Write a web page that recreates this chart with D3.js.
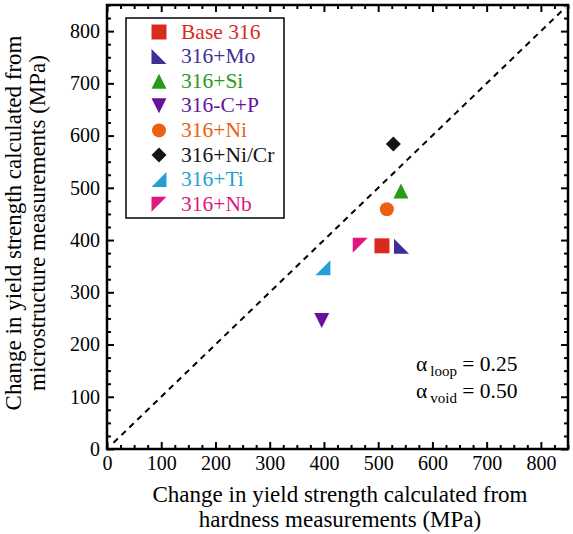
<!DOCTYPE html>
<html>
<head>
<meta charset="utf-8">
<script src="https://cdn.jsdelivr.net/npm/d3@7"></script>
<style>
  body { margin: 0; background: #fff; }
  text { font-family: "Liberation Serif", "Times New Roman", serif; }
</style>
</head>
<body>
<svg id="chart" width="573" height="534"></svg>
<script>
"use strict";

// data
var alloys = ["Base 316", "316+Mo", "316+Si", "316-C+P", "316+Ni", "316+Ni/Cr", "316+Ti", "316+Nb"];
var hardnessYS = [507, 543, 542, 396, 516, 528, 398, 467];
var microYS = [389, 388, 494, 246, 459, 584, 347, 390];
var colors = ["#da2a1f", "#3e2f97", "#2a9a1a", "#6a109e", "#ea620f", "#151515", "#259fd2", "#e0177f"];
var symbols = ["square", "triLL", "triUp", "triDown", "circle", "diamond", "triLR", "triUL"];
var tickValues = [0, 100, 200, 300, 400, 500, 600, 700, 800];

var svg = d3.select("#chart");

var x = d3.scaleLinear().domain([0, 850]).range([107, 568]);
var y = d3.scaleLinear().domain([0, 850]).range([449, 5]);

// marker shapes, s = half size
var markerPath = function(type, s)
{
    switch (type)
    {
        case "square":  return "M" + -s + "," + -s + "H" + s + "V" + s + "H" + -s + "Z";
        case "triUp":   return "M0," + -s + "L" + s + "," + s + "H" + -s + "Z";
        case "triDown": return "M0," + s + "L" + s + "," + -s + "H" + -s + "Z";
        case "diamond": return "M0," + -s + "L" + s + ",0L0," + s + "L" + -s + ",0Z";
        case "triLL":   return "M" + -s + "," + -s + "L" + s + "," + s + "H" + -s + "Z";
        case "triLR":   return "M" + s + "," + -s + "V" + s + "H" + -s + "Z";
        case "triUL":   return "M" + -s + "," + -s + "H" + s + "L" + -s + "," + s + "Z";
        case "circle":  return d3.symbol(d3.symbolCircle, Math.PI * s * s)();
    }
};

// axes, ticks pointing inward
var minorTicks = d3.range(0, 851, 25).filter(function(v) { return v % 100 != 0; });

var styleAxis = function(g)
{
    g.select(".domain").remove();
    g.selectAll("line").attr("stroke", "#000").attr("stroke-width", 2);
    g.selectAll("text").attr("fill", "#000").style("font-size", "20px");
};

svg.append("g").attr("transform", "translate(0,449)")
    .call(d3.axisBottom(x).tickValues(tickValues).tickSize(-7).tickPadding(7).tickFormat(d3.format("d")))
    .call(styleAxis);
svg.append("g").attr("transform", "translate(0,449)")
    .call(d3.axisBottom(x).tickValues(minorTicks).tickSize(-4).tickFormat(""))
    .call(styleAxis);
svg.append("g").attr("transform", "translate(0,5)")
    .call(d3.axisTop(x).tickValues(tickValues).tickSize(-7).tickFormat(""))
    .call(styleAxis);
svg.append("g").attr("transform", "translate(0,5)")
    .call(d3.axisTop(x).tickValues(minorTicks).tickSize(-4).tickFormat(""))
    .call(styleAxis);

svg.append("g").attr("transform", "translate(107,0)")
    .call(d3.axisLeft(y).tickValues(tickValues).tickSize(-7).tickPadding(7).tickFormat(d3.format("d")))
    .call(styleAxis);
svg.append("g").attr("transform", "translate(107,0)")
    .call(d3.axisLeft(y).tickValues(minorTicks).tickSize(-4).tickFormat(""))
    .call(styleAxis);
svg.append("g").attr("transform", "translate(568,0)")
    .call(d3.axisRight(y).tickValues(tickValues).tickSize(-7).tickFormat(""))
    .call(styleAxis);
svg.append("g").attr("transform", "translate(568,0)")
    .call(d3.axisRight(y).tickValues(minorTicks).tickSize(-4).tickFormat(""))
    .call(styleAxis);

// frame
svg.append("rect")
    .attr("x", x(0)).attr("y", y(850))
    .attr("width", x(850) - x(0)).attr("height", y(0) - y(850))
    .attr("fill", "none").attr("stroke", "#000").attr("stroke-width", 2.5);

// 1:1 line
svg.append("line")
    .attr("x1", x(12)).attr("y1", y(12))
    .attr("x2", x(845)).attr("y2", y(845))
    .attr("stroke", "#000").attr("stroke-width", 2)
    .attr("stroke-dasharray", "6,5");

// points
svg.append("g").selectAll("path")
    .data(alloys)
    .enter()
    .append("path")
    .attr("transform", function(d, i) { return "translate(" + x(hardnessYS[i]) + "," + y(microYS[i]) + ")"; })
    .attr("d", function(d, i) { return markerPath(symbols[i], symbols[i] == "circle" ? 7 : 7.5); })
    .attr("fill", function(d, i) { return colors[i]; });

// legend
var legend = svg.append("g");
legend.append("rect")
    .attr("x", 126).attr("y", 18).attr("width", 158).attr("height", 200)
    .attr("fill", "#fff").attr("stroke", "#000").attr("stroke-width", 1.5);

var rows = legend.selectAll(".row")
    .data(alloys)
    .enter()
    .append("g")
    .attr("transform", function(d, i) { return "translate(159," + (32 + i * 24.6) + ")"; });
rows.append("path")
    .attr("d", function(d, i) { return markerPath(symbols[i], symbols[i] == "circle" ? 7 : 7.5); })
    .attr("fill", function(d, i) { return colors[i]; });
rows.append("text")
    .attr("x", 22).attr("y", 6.5)
    .style("font-size", "21.5px")
    .attr("fill", function(d, i) { return colors[i]; })
    .text(function(d) { return d; });

// alpha annotation
var alphas = [["loop", "0.25"], ["void", "0.50"]];
var ann = svg.append("g").selectAll("text")
    .data(alphas)
    .enter()
    .append("text")
    .attr("x", 416)
    .attr("y", function(d, i) { return 371 + i * 27; })
    .style("font-size", "21.5px");
ann.append("tspan").text("\u03b1");
ann.append("tspan").attr("dx", 3).attr("dy", 5).style("font-size", "15px").text(function(d) { return d[0]; });
ann.append("tspan").attr("dy", -5).text(function(d) { return " = " + d[1]; });

// axis titles
var xTitle = svg.append("text").attr("text-anchor", "middle").style("font-size", "23px");
xTitle.append("tspan").attr("x", 340).attr("y", 502).text("Change in yield strength calculated from");
xTitle.append("tspan").attr("x", 340).attr("y", 527).text("hardness measurements (MPa)");

var yTitle = svg.append("text").attr("text-anchor", "middle").style("font-size", "23px")
    .attr("transform", "translate(0,223) rotate(-90)");
yTitle.append("tspan").attr("x", 0).attr("y", 21).text("Change in yield strength calculated from");
yTitle.append("tspan").attr("x", 0).attr("y", 45).text("microstructure measurements (MPa)");
</script>
</body>
</html>
